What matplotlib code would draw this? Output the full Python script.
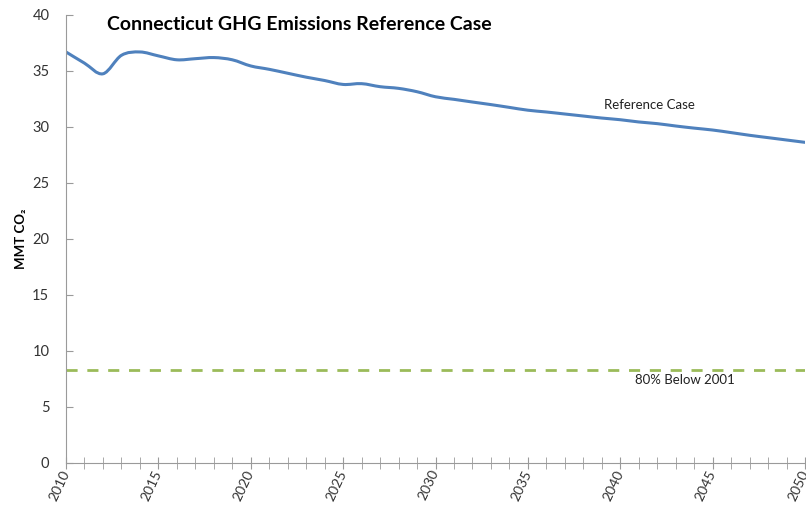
import matplotlib
matplotlib.use('Agg')
import matplotlib.pyplot as plt
from matplotlib.path import Path
from matplotlib.patches import PathPatch
import numpy as np

# Reference case emissions, read per year
years = list(range(2010, 2051))
emissions = [36.7, 35.7, 34.75, 36.4, 36.7, 36.35, 36.0, 36.1, 36.2, 36.0,
             35.45, 35.15, 34.8, 34.45, 34.15, 33.8, 33.87, 33.6, 33.45, 33.15,
             32.7, 32.47, 32.23, 32.0, 31.75, 31.5, 31.34, 31.16, 30.98, 30.8,
             30.65, 30.45, 30.3, 30.09, 29.9, 29.73, 29.5, 29.26, 29.05, 28.84,
             28.63]
target = 8.3
yticks = [0, 5, 10, 15, 20, 25, 30, 35, 40]
xticks = [2010, 2015, 2020, 2025, 2030, 2035, 2040, 2045, 2050]

plt.rcParams['font.family'] = ['Lato', 'DejaVu Sans']

fig = plt.figure(figsize=(8.06, 5.08), dpi=100)
ax = fig.add_axes([66/806, 45/508, 739/806, 448/508])

# smoothed line like Excel: cubic bezier through the data points
x = np.array(years, dtype=float)
y = np.array(emissions)
verts = [(x[0], y[0])]
codes = [Path.MOVETO]
for i in range(len(x) - 1):
    x0, y0 = (x[i-1], y[i-1]) if i > 0 else (x[i], y[i])
    x3, y3 = (x[i+2], y[i+2]) if i + 2 < len(x) else (x[i+1], y[i+1])
    c1 = (x[i] + (x[i+1] - x0) / 6, y[i] + (y[i+1] - y0) / 6)
    c2 = (x[i+1] - (x3 - x[i]) / 6, y[i+1] - (y3 - y[i]) / 6)
    verts += [c1, c2, (x[i+1], y[i+1])]
    codes += [Path.CURVE4] * 3
ax.add_patch(PathPatch(Path(verts, codes), fill=False, edgecolor='#4F81BD', lw=2.2,
                       capstyle='round', joinstyle='round'))
ax.axhline(target, color='#9BBB59', lw=2, ls=(0, (4, 3.5)))

ax.set_xlim(2010, 2050)
ax.set_ylim(0, 40)
ax.set_yticks(yticks)
ax.set_xticks(xticks)
ax.set_xticks(years, minor=True)
ax.set_xticklabels([str(v) for v in xticks], rotation=65, ha='right', va='center',
                   rotation_mode='anchor', fontsize=10, color='#333333')
ax.set_yticklabels([str(v) for v in yticks], fontsize=10.5, color='#333333')

for s in ['top', 'right']:
    ax.spines[s].set_visible(False)
for s in ['left', 'bottom']:
    ax.spines[s].set_color('#9a9a9a')
ax.tick_params(axis='x', which='both', direction='inout', length=9, color='#9a9a9a', pad=1)
ax.tick_params(axis='y', direction='in', length=5, color='#9a9a9a', pad=12)

ax.set_ylabel('MMT CO₂', fontsize=9.5, fontweight='bold', labelpad=4)

fig.text(107/806, 1 - 25/508, 'Connecticut GHG Emissions Reference Case',
         fontsize=14, fontweight='bold', va='center', ha='left')
ax.text(2041.6, 32.0, 'Reference Case', fontsize=9.5, ha='center', va='center', color='#222222')
ax.text(2043.5, 7.4, '80% Below 2001', fontsize=9.5, ha='center', va='center', color='#222222')

fig.savefig('out.png', dpi=100)
